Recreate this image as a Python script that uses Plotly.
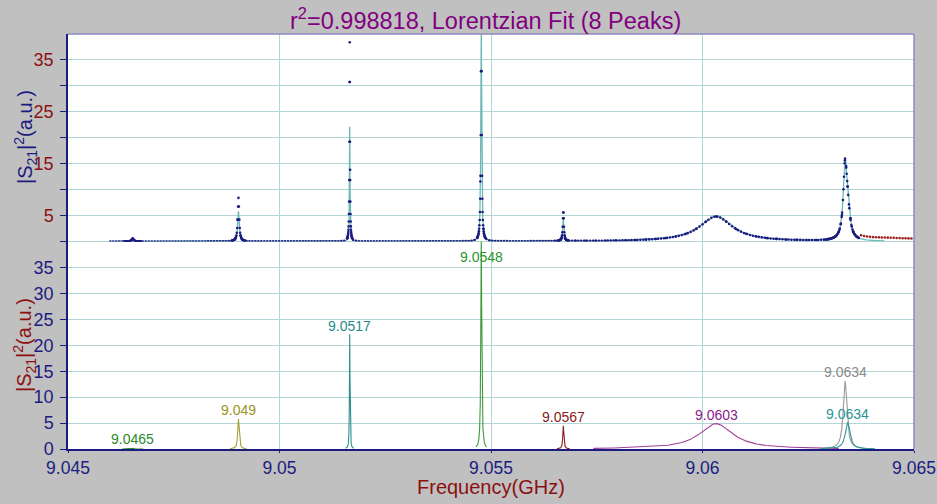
import numpy as np
import plotly.graph_objects as go

# ---------------- data ----------------
peak_labels = ["9.0465", "9.049", "9.0517", "9.0548", "9.0567", "9.0603", "9.0634", "9.0634"]
peak_centers = [9.04653, 9.04903, 9.05166, 9.05477, 9.05671, 9.06032, 9.06337, 9.06343]
peak_heights = [0.15, 5.8, 22.1, 41.0, 4.5, 4.9, 13.1, 5.1]          # fitted peaks (a.u.)
peak_fwhm = [0.00005, 0.00004, 0.000015, 0.000025, 0.00003, 0.00095, 0.0001, 0.00013]  # GHz
data_heights = [0.6, 8.4, 38.4, 41.0, 5.5, 4.8, 13.1, 5.1]          # measured maxima (a.u.)
peak_colors = ["#2e8b2e", "#a3a032", "#2f8f8f", "#3c9a3c", "#8b1a1a", "#a0409a", "#9a9a9a", "#2a9a9a"]
label_colors = ["#2a8a2a", "#9a9420", "#2a8a8a", "#2a962a", "#8b1a1a", "#8b1a8b", "#8a8a8a", "#2a9595"]

data_start, data_stop, data_step = 9.0460, 9.0637, 0.00007
fit_start, fit_stop = 9.0460, 9.0643
tail_freq = [9.06375, 9.06382, 9.06389, 9.06396, 9.06403, 9.0641, 9.06417, 9.06424,
             9.06431, 9.06438, 9.06445, 9.06452, 9.06459, 9.06466, 9.06473, 9.0648, 9.06487, 9.06494]
tail_vals = [1.2, 1.05, 0.95, 0.9, 0.85, 0.82, 0.8, 0.78, 0.76, 0.74, 0.72, 0.7, 0.68, 0.66,
             0.64, 0.62, 0.6, 0.58]

x_ticks = [9.045, 9.05, 9.055, 9.06, 9.065]
x_ticktext = ["9.045", "9.05", "9.055", "9.06", "9.065"]

NAVY = "#1c1c80"
DRED = "#8b1010"
GRID = "#b2d6d6"
FONT = "Arial, Liberation Sans, sans-serif"


def lorentz(x, c, h, w):
    return h / (1.0 + (2.0 * (x - c) / w) ** 2)


def model(x, heights):
    y = np.zeros_like(x)
    for c, h, w in zip(peak_centers, heights, peak_fwhm):
        y += lorentz(x, c, h, w)
    return y


fig = go.Figure()

# ---------------- top panel: data + cumulative fit ----------------
fit_x = [np.linspace(fit_start, fit_stop, 4000)]
for c, w in zip(peak_centers, peak_fwhm):
    fit_x.append(c + w * np.linspace(-12, 12, 241))
fit_x = np.unique(np.concatenate(fit_x))
fit_x = fit_x[(fit_x >= fit_start) & (fit_x <= fit_stop)]
fig.add_trace(go.Scatter(x=fit_x, y=model(fit_x, peak_heights), mode="lines",
                         line=dict(color="#6cb8b8", width=1.3), xaxis="x2", yaxis="y2",
                         hoverinfo="skip", showlegend=False))

dx = [np.arange(data_start, data_stop, data_step)]
for c, w in zip(peak_centers, peak_fwhm):
    dx.append(c + w * np.arange(-4, 4.01, 0.25))
dx = np.unique(np.concatenate(dx))
dx = dx[(dx >= data_start) & (dx <= data_stop)]
fig.add_trace(go.Scatter(x=dx, y=model(dx, data_heights), mode="markers",
                         marker=dict(color=NAVY, size=2.6), xaxis="x2", yaxis="y2",
                         showlegend=False))
fig.add_trace(go.Scatter(x=tail_freq, y=tail_vals, mode="markers",
                         marker=dict(color="#a02020", size=2.6), xaxis="x2", yaxis="y2",
                         showlegend=False))

# ---------------- bottom panel: individual peaks ----------------
for c, h, w, col in zip(peak_centers, peak_heights, peak_fwhm, peak_colors):
    span = min(max(5 * w, 0.0001), 0.0029)
    xs = np.linspace(c - span, c + span, 1201)
    fig.add_trace(go.Scatter(x=xs, y=lorentz(xs, c, h, w), mode="lines",
                             line=dict(color=col, width=1.1), xaxis="x", yaxis="y",
                             hoverinfo="skip", showlegend=False))

annotations = []
for lab, c, h, col in zip(peak_labels, peak_centers, peak_heights, label_colors):
    annotations.append(dict(x=c, y=min(h, 35.4) + 1.7, xref="x", yref="y", text=lab,
                            showarrow=False, font=dict(family=FONT, size=14, color=col),
                            xanchor="center", yanchor="middle"))

L, R, T, B = 68, 23, 34, 55
W, H = 937, 504
pw = W - L - R
ph = H - T - B


def px_x(p):
    return (p - L) / pw


def px_y(p):
    return (H - B - p) / ph


annotations.append(dict(x=px_x(485), y=px_y(19), xref="paper", yref="paper",
                        text="r<sup>2</sup>=0.998818, Lorentzian Fit (8 Peaks)", showarrow=False,
                        font=dict(family=FONT, size=23.5, color="#800080"),
                        xanchor="center", yanchor="middle"))
annotations.append(dict(x=px_x(491), y=px_y(487), xref="paper", yref="paper",
                        text="Frequency(GHz)", showarrow=False,
                        font=dict(family=FONT, size=20, color=DRED),
                        xanchor="center", yanchor="middle"))
annotations.append(dict(x=px_x(25), y=px_y(137), xref="paper", yref="paper",
                        text="|S<sub>21</sub>|<sup>2</sup>(a.u.)", textangle=-90, showarrow=False,
                        font=dict(family=FONT, size=20, color=NAVY), xanchor="center", yanchor="middle"))
annotations.append(dict(x=px_x(24), y=px_y(345), xref="paper", yref="paper",
                        text="|S<sub>21</sub>|<sup>2</sup>(a.u.)", textangle=-90, showarrow=False,
                        font=dict(family=FONT, size=20, color=DRED), xanchor="center", yanchor="middle"))

axis_common = dict(showgrid=True, gridcolor=GRID, gridwidth=1, zeroline=False, automargin=False)

fig.update_layout(
    width=W, height=H,
    margin=dict(l=L, r=R, t=T, b=B, autoexpand=False),
    paper_bgcolor="#c0c0c0", plot_bgcolor="white",
    font=dict(family=FONT),
    xaxis=dict(domain=[0, 1], anchor="y", range=[9.045, 9.065], tickvals=x_ticks,
               ticktext=x_ticktext, ticks="outside", ticklen=2, tickcolor=NAVY,
               tickfont=dict(size=17.5, color=NAVY),
               showline=True, linecolor=NAVY, linewidth=1.5,
               **axis_common),
    yaxis=dict(domain=[0, 0.5], anchor="x", range=[0, 40], tickvals=[0, 5, 10, 15, 20, 25, 30, 35],
               ticks="outside", ticklen=6, tickcolor=NAVY, tickfont=dict(size=18, color=NAVY),
               ticklabelstandoff=3,
               showline=True, linecolor=NAVY, linewidth=1.5, **axis_common),
    xaxis2=dict(domain=[0, 1], anchor="y2", matches="x", range=[9.045, 9.065], tickvals=x_ticks,
                showticklabels=False, ticks="", showline=False, **axis_common),
    yaxis2=dict(domain=[0.5, 1], anchor="x2", range=[0, 40],
                tickvals=[0, 5, 10, 15, 20, 25, 30, 35],
                ticktext=["", "5", "", "15", "", "25", "", "35"],
                ticks="outside", ticklen=6, tickcolor=NAVY, tickfont=dict(size=18, color=DRED),
                ticklabelstandoff=3,
                showline=True, linecolor=NAVY, linewidth=1.5, **axis_common),
    annotations=annotations,
    shapes=[
        dict(type="line", xref="paper", yref="paper", x0=0, x1=1, y0=1, y1=1,
             line=dict(color="#8a8abf", width=1.5)),
        dict(type="line", xref="paper", yref="paper", x0=1, x1=1, y0=0, y1=1,
             line=dict(color="#8a8abf", width=1.5)),
        dict(type="line", xref="paper", yref="paper", x0=0, x1=1, y0=0.5, y1=0.5,
             line=dict(color=GRID, width=1), layer="below"),
    ],
)

fig.write_html("out.html",
               config={"displayModeBar": False},
               post_script="document.body.style.margin='0';"
                           "document.body.style.background='#c0c0c0';"
                           "document.body.style.overflow='hidden';")
